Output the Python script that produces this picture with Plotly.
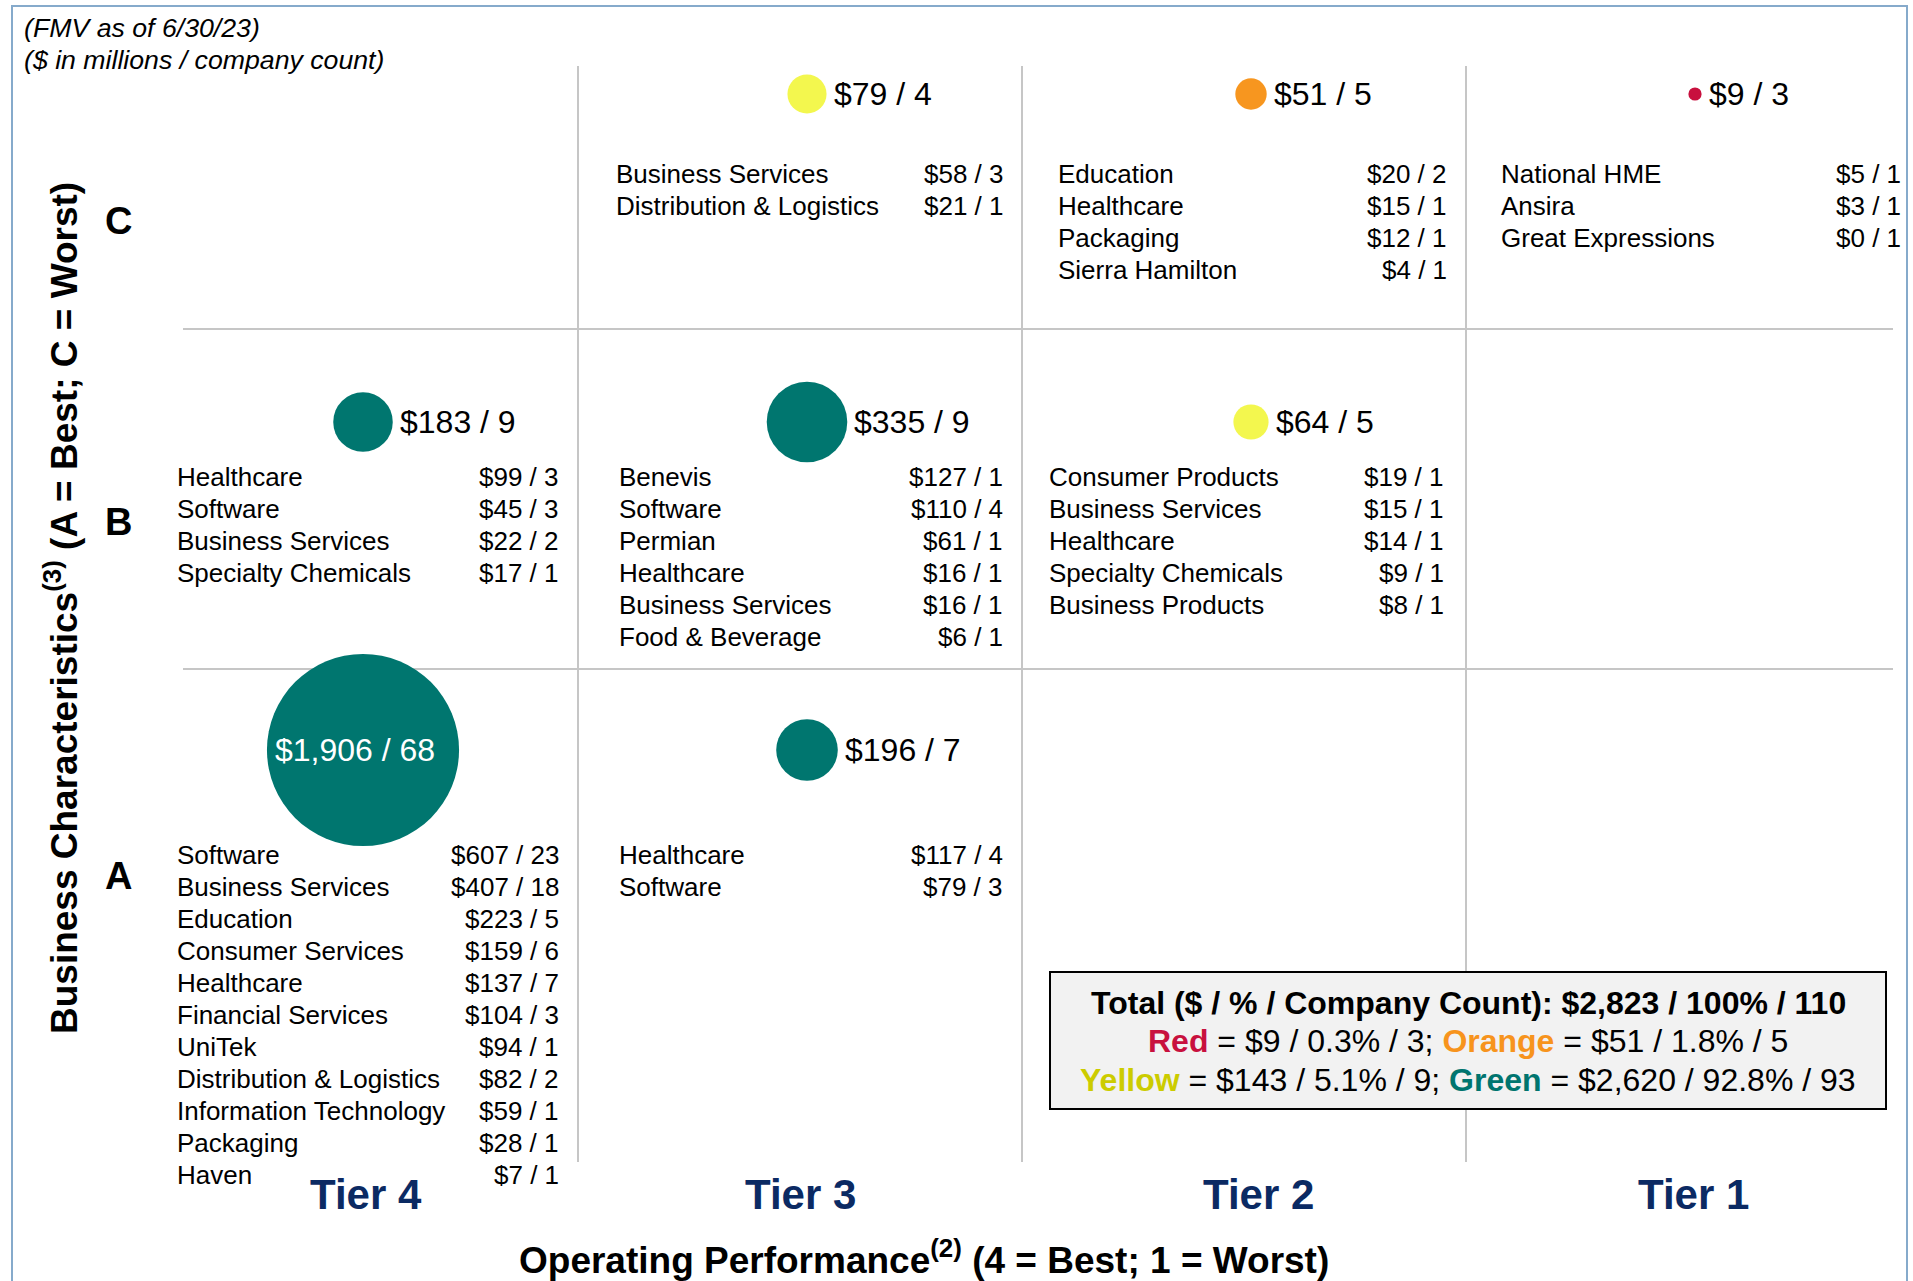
import numpy as np
import plotly.graph_objects as go

W, H = 1913, 1281
FONT = "Liberation Sans, Arial, sans-serif"

# ---------------- data ----------------
tiers = ["Tier 4", "Tier 3", "Tier 2", "Tier 1"]
ratings = ["A", "B", "C"]

bubble_tier = ["Tier 4", "Tier 4", "Tier 3", "Tier 3", "Tier 3", "Tier 2", "Tier 2", "Tier 1"]
bubble_rating = ["A", "B", "A", "B", "C", "B", "C", "C"]
bubble_fmv = [1906, 183, 196, 335, 79, 64, 51, 9]
bubble_count = [68, 9, 7, 9, 4, 5, 5, 3]
bubble_group = ["Green", "Green", "Green", "Green", "Yellow", "Yellow", "Orange", "Red"]

t4a_names = ["Software", "Business Services", "Education", "Consumer Services", "Healthcare",
             "Financial Services", "UniTek", "Distribution & Logistics", "Information Technology",
             "Packaging", "Haven"]
t4a_fmv = [607, 407, 223, 159, 137, 104, 94, 82, 59, 28, 7]
t4a_cnt = [23, 18, 5, 6, 7, 3, 1, 2, 1, 1, 1]

t4b_names = ["Healthcare", "Software", "Business Services", "Specialty Chemicals"]
t4b_fmv = [99, 45, 22, 17]
t4b_cnt = [3, 3, 2, 1]

t3a_names = ["Healthcare", "Software"]
t3a_fmv = [117, 79]
t3a_cnt = [4, 3]

t3b_names = ["Benevis", "Software", "Permian", "Healthcare", "Business Services", "Food & Beverage"]
t3b_fmv = [127, 110, 61, 16, 16, 6]
t3b_cnt = [1, 4, 1, 1, 1, 1]

t3c_names = ["Business Services", "Distribution & Logistics"]
t3c_fmv = [58, 21]
t3c_cnt = [3, 1]

t2b_names = ["Consumer Products", "Business Services", "Healthcare", "Specialty Chemicals",
             "Business Products"]
t2b_fmv = [19, 15, 14, 9, 8]
t2b_cnt = [1, 1, 1, 1, 1]

t2c_names = ["Education", "Healthcare", "Packaging", "Sierra Hamilton"]
t2c_fmv = [20, 15, 12, 4]
t2c_cnt = [2, 1, 1, 1]

t1c_names = ["National HME", "Ansira", "Great Expressions"]
t1c_fmv = [5, 3, 0]
t1c_cnt = [1, 1, 1]

cell_lists = {
    ("Tier 4", "A"): (t4a_names, t4a_fmv, t4a_cnt),
    ("Tier 4", "B"): (t4b_names, t4b_fmv, t4b_cnt),
    ("Tier 3", "A"): (t3a_names, t3a_fmv, t3a_cnt),
    ("Tier 3", "B"): (t3b_names, t3b_fmv, t3b_cnt),
    ("Tier 3", "C"): (t3c_names, t3c_fmv, t3c_cnt),
    ("Tier 2", "B"): (t2b_names, t2b_fmv, t2b_cnt),
    ("Tier 2", "C"): (t2c_names, t2c_fmv, t2c_cnt),
    ("Tier 1", "C"): (t1c_names, t1c_fmv, t1c_cnt),
}

header_lines = ["(FMV as of 6/30/23)", "($ in millions / company count)"]
x_title = "Operating Performance<sup>(2)</sup> (4 = Best; 1 = Worst)"
y_title = "Business Characteristics<sup>(3)</sup> (A = Best; C = Worst)"

# ---------------- styling / layout ----------------
group_colors = {"Green": "#00766F", "Yellow": "#F3F74E", "Orange": "#F7961F", "Red": "#C8103E"}
legend_colors = {"Red": "#C8103E", "Orange": "#F7941D", "Yellow": "#CCCC00", "Green": "#00756F"}
TIER_COLOR = "#0B2A63"
GRID = "#C6C6C6"

COL0, COLW = 356.0, 444.0      # pixel centre of first column, column pitch
ROW0, ROWH = 750.0, 328.0      # pixel y of row A bubbles, row pitch


def xd(px):
    return (px - COL0) / COLW


def yd(py):
    return (ROW0 - py) / ROWH


tier_idx = {t: i for i, t in enumerate(tiers)}
rating_idx = {r: i for i, r in enumerate(ratings)}
BUBBLE_DX = 7 / COLW

cell_text_x = {
    ("Tier 4", "A"): (175, 561), ("Tier 4", "B"): (175, 561),
    ("Tier 3", "A"): (617, 1005), ("Tier 3", "B"): (617, 1005), ("Tier 3", "C"): (614, 1006),
    ("Tier 2", "B"): (1047, 1446), ("Tier 2", "C"): (1056, 1449),
    ("Tier 1", "C"): (1499, 1903),
}
row_first_line = {"A": 855, "B": 477, "C": 174}
LINE = 32
row_letter_py = {"A": 876, "B": 522, "C": 221}
tier_label_dx = {"Tier 4": 10, "Tier 3": 0, "Tier 2": 14, "Tier 1": 5}

fig = go.Figure()

bx = np.array([tier_idx[t] for t in bubble_tier]) + BUBBLE_DX
by = np.array([rating_idx[r] for r in bubble_rating], dtype=float)
diam = 4.4 * np.sqrt(np.array(bubble_fmv, dtype=float))

fig.add_trace(go.Scatter(
    x=bx, y=by, mode="markers",
    marker=dict(size=diam, sizemode="diameter",
                color=[group_colors[g] for g in bubble_group], line=dict(width=0), opacity=1),
    hoverinfo="skip", showlegend=False,
))

annotations = []


def ann(x, y, text, size, xanchor="center", color="black", weight="normal", **kw):
    annotations.append(dict(x=x, y=y, xref="x", yref="y", text=text, showarrow=False,
                            xanchor=xanchor, yanchor="middle",
                            font=dict(family=FONT, size=size, color=color, weight=weight), **kw))


# bubble labels
for x, y, v, c, d in zip(bx, by, bubble_fmv, bubble_count, diam):
    label = f"${v:,} / {c}"
    if d > 120:
        ann(x, y, label, 32, "center", "white", xshift=-8)
    else:
        ann(x, y, label, 32, "left", "black", xshift=d / 2 + 5)

# sector lists
for (t, r), (names, fmv, cnt) in cell_lists.items():
    lx, rx = cell_text_x[(t, r)]
    for k, (n, v, c) in enumerate(zip(names, fmv, cnt)):
        py = row_first_line[r] + k * LINE
        ann(xd(lx), yd(py), n, 26, "left")
        ann(xd(rx), yd(py), f"${v:,} / {c}", 26, "right")

# row letters
for r in ratings:
    ann(xd(118), yd(row_letter_py[r]), r, 38, "center", weight="bold")

# tier labels
for t in tiers:
    ann(tier_idx[t] + tier_label_dx[t] / COLW, yd(1194), t, 42, "center", TIER_COLOR, "bold")

# header
ann(xd(22), yd(28), f"<i>{header_lines[0]}</i>", 26.7, "left")
ann(xd(22), yd(60), f"<i>{header_lines[1]}</i>", 26.7, "left")

# axis titles
ann(xd(924), yd(1257), x_title, 37, "center", weight="bold")
ann(xd(61), yd(608), y_title, 37, "center", weight="bold", textangle=-90)

# legend / totals box
total_v = sum(bubble_fmv)
total_c = sum(bubble_count)
grp_v = {g: sum(v for v, gg in zip(bubble_fmv, bubble_group) if gg == g) for g in legend_colors}
grp_c = {g: sum(c for c, gg in zip(bubble_count, bubble_group) if gg == g) for g in legend_colors}


def grp_txt(g):
    return (f"<b><span style='color:{legend_colors[g]}'>{g}</span></b> = "
            f"${grp_v[g]:,} / {100 * grp_v[g] / total_v:.1f}% / {grp_c[g]}")


leg1 = f"<b>Total ($ / % / Company Count): ${total_v:,} / 100% / {total_c}</b>"
leg2 = grp_txt("Red") + "; " + grp_txt("Orange")
leg3 = grp_txt("Yellow") + "; " + grp_txt("Green")
for py, txt in zip([1003, 1041, 1080], [leg1, leg2, leg3]):
    ann(xd(1468), yd(py), txt, 32, "center")

shapes = []
# outer frame
shapes.append(dict(type="rect", xref="x", yref="y", x0=xd(12), x1=xd(1907),
                   y0=yd(6), y1=yd(1300), line=dict(color="#86AACB", width=2),
                   fillcolor="rgba(0,0,0,0)", layer="below"))
# vertical grid lines
for k in range(3):
    shapes.append(dict(type="line", xref="x", yref="y", x0=k + 0.5, x1=k + 0.5,
                       y0=yd(66), y1=yd(1162), line=dict(color=GRID, width=2), layer="below"))
# horizontal grid lines
for py in (329, 669):
    shapes.append(dict(type="line", xref="x", yref="y", x0=xd(183), x1=xd(1893),
                       y0=yd(py), y1=yd(py), line=dict(color=GRID, width=2), layer="below"))
# totals box (drawn after the grid so it covers it)
shapes.append(dict(type="rect", xref="x", yref="y", x0=xd(1050), x1=xd(1886),
                   y0=yd(972), y1=yd(1109), fillcolor="#F2F2F2",
                   line=dict(color="black", width=2), layer="below"))

fig.update_layout(
    width=W, height=H, margin=dict(l=0, r=0, t=0, b=0, pad=0),
    paper_bgcolor="white", plot_bgcolor="white",
    xaxis=dict(range=[xd(0), xd(W)], visible=False, fixedrange=True),
    yaxis=dict(range=[yd(H), yd(0)], visible=False, fixedrange=True),
    annotations=annotations, shapes=shapes, showlegend=False,
    font=dict(family=FONT, color="black"),
)

fig.write_html("out.html", config={"displayModeBar": False, "staticPlot": True},
               post_script="document.body.style.margin='0';document.body.style.overflow='hidden';")
